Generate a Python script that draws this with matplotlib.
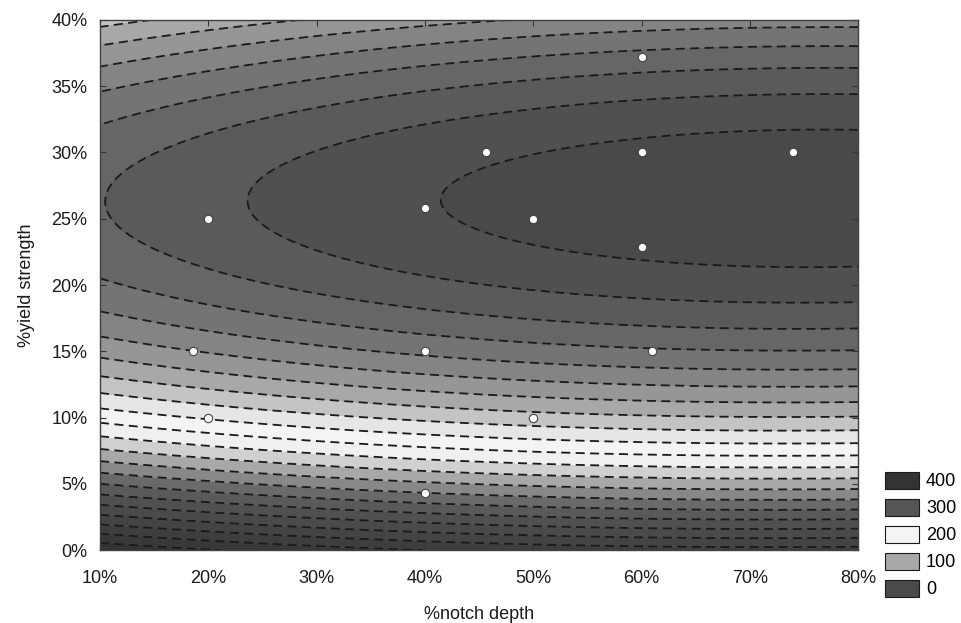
import matplotlib
matplotlib.use('Agg')
import matplotlib.pyplot as plt
import numpy as np
from matplotlib.patches import Patch

plt.rcParams['font.family'] = ['Liberation Sans', 'DejaVu Sans']

# design points (white dots)
notch_depth = [20, 18.6, 20, 40, 40, 40, 45.6, 50, 50, 60, 60, 60, 61, 74]
yield_strength = [25, 15, 10, 4.3, 15, 25.8, 30, 25, 10, 37.2, 30, 22.9, 15, 30]

# fitted quadratic response surface  z = b0 + bx*x + by*y + bxx*x^2 + byy*y^2 + bxy*x*y
b0, bx, by = -13.29, 1.8527, 30.016
bxx, byy, bxy = -0.012907, -0.57143, 0.0041143

contour_step = 20
# grey of each band between contour lines, from lowest band upward
band_grays = ['#333333', '#383838', '#3e3e3e', '#444444', '#4a4a4a', '#505050',
              '#5a5a5a', '#6a6a6a', '#888888', '#a8a8a8', '#d0d0d0', '#f0f0f0',
              '#f4f4f4', '#e6e6e6', '#c4c4c4', '#a8a8a8', '#969696', '#848484',
              '#747474', '#666666', '#5a5a5a', '#505050', '#494949']

legend_values = ['400', '300', '200', '100', '0']
legend_colors = ['#333333', '#555555', '#f4f4f4', '#a8a8a8', '#4a4a4a']

x_ticks = [10, 20, 30, 40, 50, 60, 70, 80]
y_ticks = [0, 5, 10, 15, 20, 25, 30, 35, 40]

fs = 13

fig = plt.figure(figsize=(9.62, 6.23), dpi=100)
ax = fig.add_axes([0.104, 0.117, 0.788, 0.851])

xs = np.linspace(10, 80, 400)
ys = np.linspace(0, 40, 300)
X, Y = np.meshgrid(xs, ys)
Z = b0 + bx * X + by * Y + bxx * X**2 + byy * Y**2 + bxy * X * Y

levels = np.arange(0, contour_step * (len(band_grays) + 1), contour_step)
levels = levels.astype(float)
levels[0] = -1000
ax.contourf(X, Y, Z, levels=levels, colors=band_grays)
ax.contour(X, Y, Z, levels=levels[1:], colors='#1a1a1a', linewidths=1.3,
           linestyles=[(0, (5, 3))])

ax.plot(notch_depth, yield_strength, 'o', ms=6, mfc='white', mec='#444444',
        mew=0.8, ls='none')

ax.set_xlim(10, 80)
ax.set_ylim(0, 40)
ax.set_xticks(x_ticks)
ax.set_xticklabels([f'{v}%' for v in x_ticks])
ax.set_yticks(y_ticks)
ax.set_yticklabels([f'{v}%' for v in y_ticks])
ax.tick_params(direction='in', length=4, top=True, right=True, labelsize=fs,
               colors='#333333', labelcolor='#1a1a1a')
ax.tick_params(axis='x', pad=14)
ax.tick_params(axis='y', pad=9)
for s in ax.spines.values():
    s.set_color('#404040')
    s.set_linewidth(1)

ax.set_xlabel('%notch depth', fontsize=fs, labelpad=14, color='#1a1a1a')
ax.set_ylabel('%yield strength', fontsize=fs, labelpad=12, color='#1a1a1a')

handles = [Patch(facecolor=c, edgecolor='#1a1a1a', linewidth=0.8) for c in legend_colors]
fig.legend(handles, legend_values, loc='upper left', bbox_to_anchor=(0.909, 0.26),
           frameon=False, fontsize=fs, handlelength=1.85, handleheight=1.05,
           labelspacing=0.47, handletextpad=0.4, borderpad=0.1)

fig.savefig('out.png', dpi=100)
